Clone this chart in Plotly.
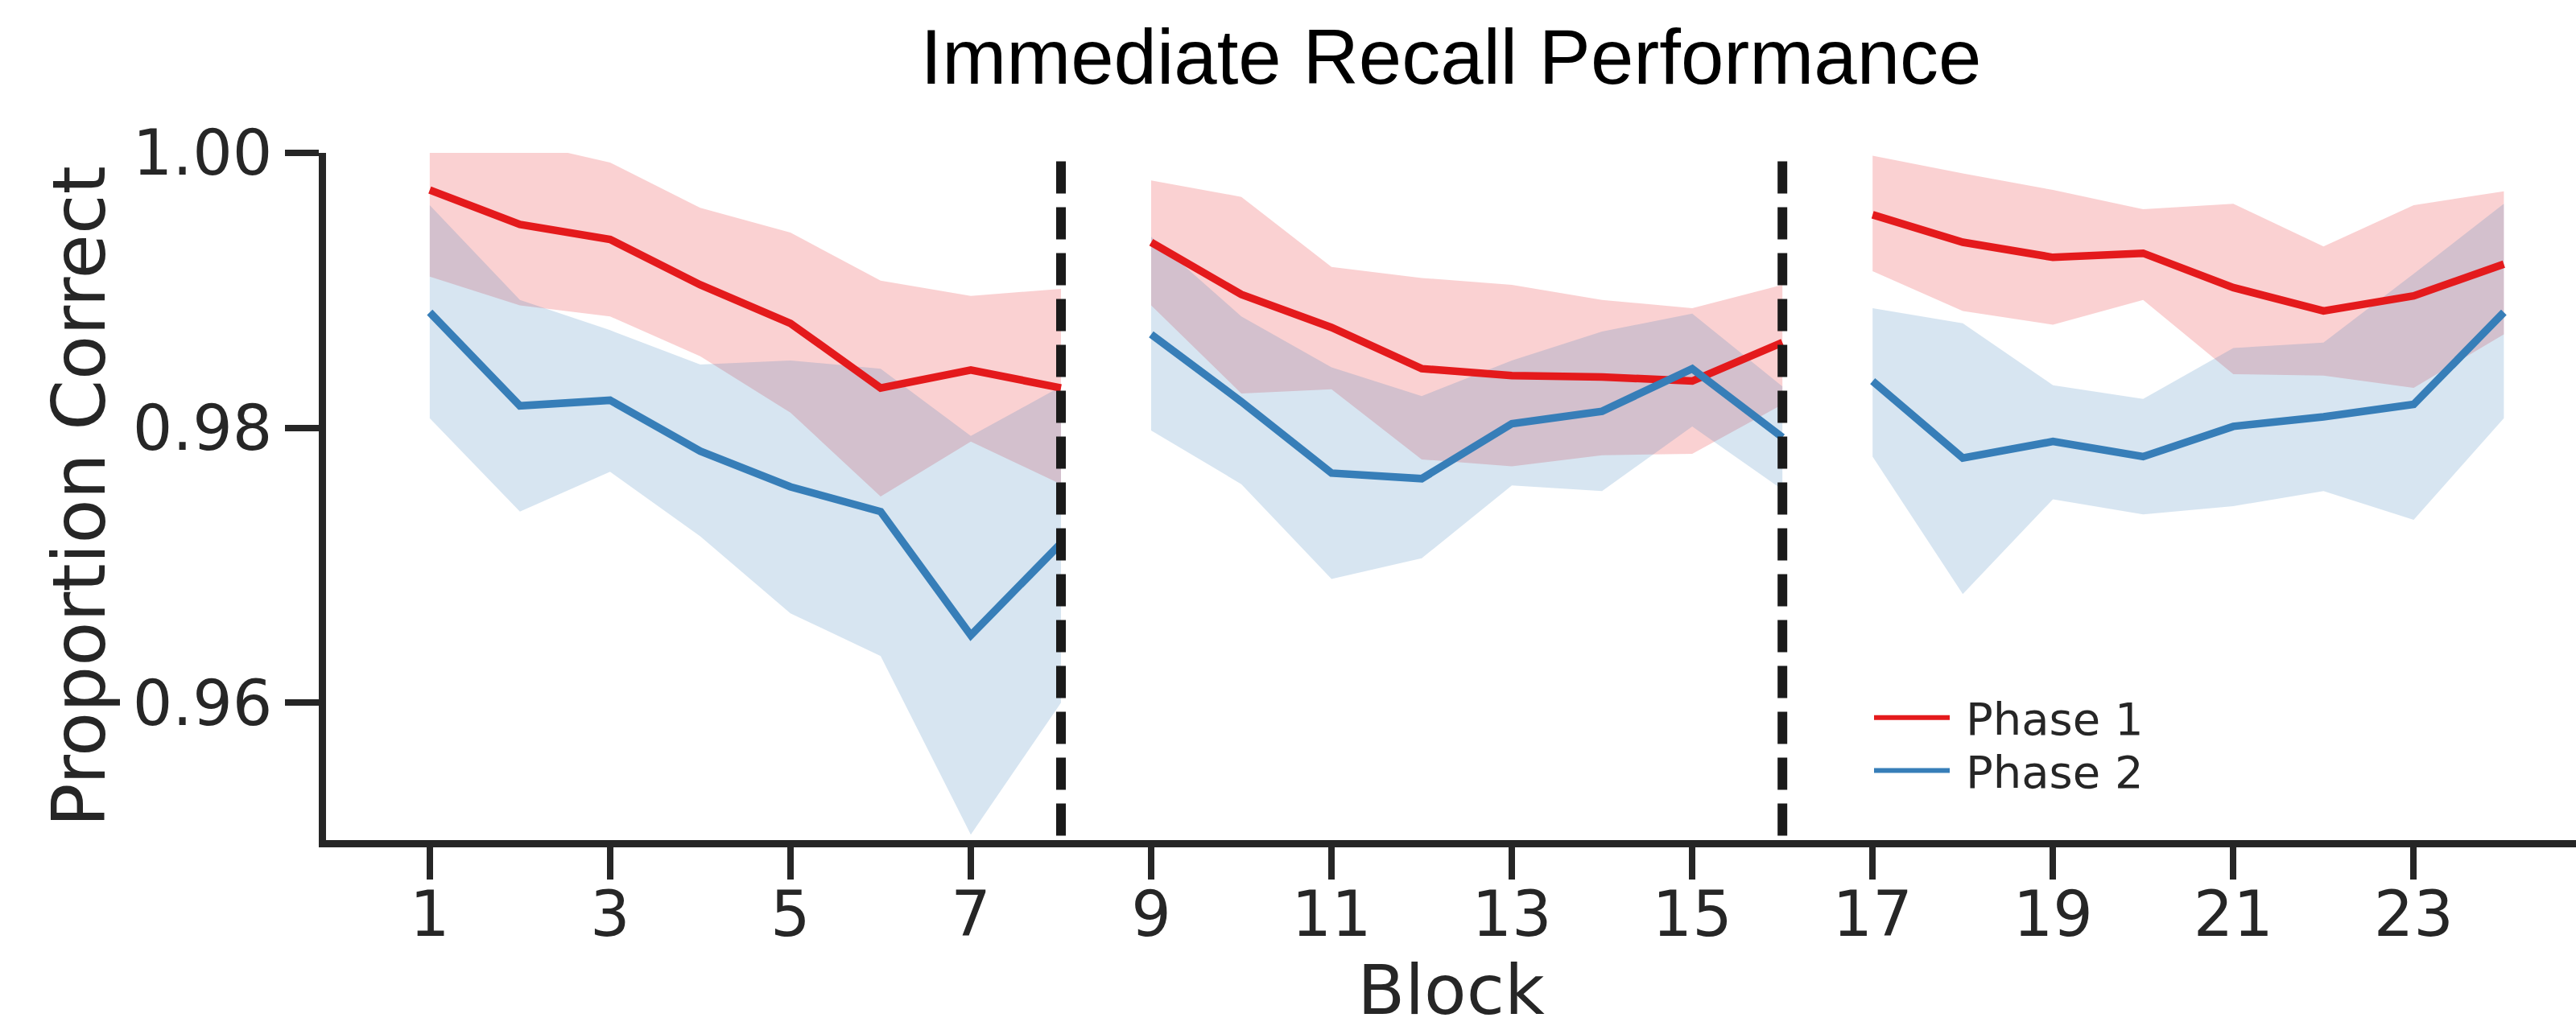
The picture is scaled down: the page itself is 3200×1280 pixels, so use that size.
import plotly.graph_objects as go

# ---------------- data ----------------
blocks = list(range(1, 25))
separators = [8, 16]
segments = [(1, 8), (9, 16), (17, 24)]
x_ticks = list(range(1, 24, 2))
y_ticks = [0.96, 0.98, 1.00]
y_ticklabels = ["0.96", "0.98", "1.00"]

phase1_mean = [0.9973, 0.9948, 0.9937, 0.9904, 0.9876, 0.9829, 0.9842, 0.9829,
               0.9935, 0.9897, 0.9873, 0.9843, 0.9838, 0.9837, 0.9834, 0.9862,
               0.9955, 0.9935, 0.9924, 0.9927, 0.9902, 0.9885, 0.9896, 0.9919]
phase1_upper = [1.0015, 1.0008, 0.9993, 0.9960, 0.9942, 0.9907, 0.9896, 0.9901,
                0.9980, 0.9968, 0.9917, 0.9909, 0.9904, 0.9893, 0.9887, 0.9904,
                0.9998, 0.9985, 0.9973, 0.9959, 0.9963, 0.9932, 0.9962, 0.9972]
phase1_lower = [0.9910, 0.9889, 0.9881, 0.9852, 0.9811, 0.9750, 0.9790, 0.9759,
                0.9889, 0.9825, 0.9828, 0.9777, 0.9772, 0.9780, 0.9781, 0.9817,
                0.9914, 0.9885, 0.9875, 0.9893, 0.9839, 0.9838, 0.9829, 0.9868]

phase2_mean = [0.9884, 0.9816, 0.9820, 0.9783, 0.9757, 0.9739, 0.9649, 0.9716,
               0.9868, 0.9819, 0.9767, 0.9763, 0.9803, 0.9812, 0.9843, 0.9793,
               0.9834, 0.9778, 0.9790, 0.9779, 0.9801, 0.9808, 0.9817, 0.9884]
phase2_upper = [0.9962, 0.9893, 0.9871, 0.9846, 0.9849, 0.9843, 0.9794, 0.9830,
                0.9939, 0.9881, 0.9844, 0.9823, 0.9849, 0.9870, 0.9883, 0.9830,
                0.9887, 0.9876, 0.9831, 0.9821, 0.9858, 0.9862, 0.9912, 0.9963]
phase2_lower = [0.9807, 0.9739, 0.9768, 0.9721, 0.9665, 0.9634, 0.9504, 0.9600,
                0.9798, 0.9759, 0.9690, 0.9705, 0.9758, 0.9754, 0.9801, 0.9755,
                0.9779, 0.9679, 0.9748, 0.9737, 0.9743, 0.9754, 0.9733, 0.9807]

series_names = ["Phase 1", "Phase 2"]
line_colors = ["#e41a1c", "#377eb8"]
fill_colors = ["rgba(228,26,28,0.2)", "rgba(55,126,184,0.2)"]

# ---------------- figure ----------------
W, H = 3200, 1280
ML, MR, MT, MB = 405, 0, 189.5, 235.5
AX = "#262626"

fig = go.Figure()

means = [phase1_mean, phase2_mean]
uppers = [phase1_upper, phase2_upper]
lowers = [phase1_lower, phase2_lower]

# bands first (below lines)
for k in range(2):
    for (a, b) in segments:
        idx = [i for i, v in enumerate(blocks) if a <= v <= b]
        xs = [blocks[i] for i in idx]
        up = [uppers[k][i] for i in idx]
        lo = [lowers[k][i] for i in idx]
        fig.add_trace(go.Scatter(
            x=xs + xs[::-1], y=up + lo[::-1], mode="lines", fill="toself",
            fillcolor=fill_colors[k], line=dict(width=0), hoverinfo="skip",
            showlegend=False))

for k in range(2):
    for (a, b) in segments:
        idx = [i for i, v in enumerate(blocks) if a <= v <= b]
        fig.add_trace(go.Scatter(
            x=[blocks[i] for i in idx], y=[means[k][i] for i in idx],
            mode="lines", line=dict(color=line_colors[k], width=9.5),
            name=series_names[k], showlegend=False))

# dashed separators
for s in separators:
    fig.add_shape(type="line", xref="x", yref="y", x0=s, x1=s, y0=0.99939, y1=0.95,
                  line=dict(color="#1a1a1a", width=12, dash="40px,17px"), layer="above")

# custom legend (paper coords from pixel positions)
def px2paper_x(px):
    return (px - ML) / (W - ML - MR)

def px2paper_y(py):
    return (H - MB - py) / (H - MT - MB)

leg_rows = [892, 958]
for k in range(2):
    fig.add_shape(type="line", xref="paper", yref="paper",
                  x0=px2paper_x(2328), x1=px2paper_x(2422),
                  y0=px2paper_y(leg_rows[k]), y1=px2paper_y(leg_rows[k]),
                  line=dict(color=line_colors[k], width=6))
    fig.add_annotation(xref="paper", yref="paper", x=px2paper_x(2440),
                       y=px2paper_y(leg_rows[k] + 2), xanchor="left", yanchor="middle",
                       text=series_names[k], showarrow=False,
                       font=dict(family="DejaVu Sans", size=56, color=AX))

fig.update_layout(
    width=W, height=H,
    margin=dict(l=ML, r=MR, t=MT, b=MB, pad=0, autoexpand=False),
    paper_bgcolor="white", plot_bgcolor="white",
    showlegend=False,
    title=dict(text="Immediate Recall Performance", x=0.5, xref="paper",
               y=1 - 70 / H, yref="container", yanchor="middle", xanchor="center",
               font=dict(family="Liberation Sans", size=96, color="black")),
)

fig.update_xaxes(
    range=[-0.15, 24.8], tickvals=x_ticks, ticktext=[str(v) for v in x_ticks],
    ticks="outside", ticklen=40, tickwidth=8, tickcolor=AX, automargin=False,
    showline=True, linewidth=9, linecolor=AX, showgrid=False, zeroline=False,
    tickfont=dict(family="DejaVu Sans", size=78, color=AX),
    ticklabelstandoff=-24,
    title=dict(text="Block", font=dict(family="DejaVu Sans", size=86, color=AX), standoff=41),
)
fig.update_yaxes(
    range=[0.95, 1.0], tickvals=y_ticks, ticktext=y_ticklabels,
    ticks="outside", ticklen=42, tickwidth=8, tickcolor=AX, automargin=False,
    showline=True, linewidth=9, linecolor=AX, showgrid=False, zeroline=False,
    tickfont=dict(family="DejaVu Sans", size=78, color=AX),
    title=dict(text="Proportion Correct", font=dict(family="DejaVu Sans", size=90, color=AX), standoff=8),
)

fig.write_html("out.html")
